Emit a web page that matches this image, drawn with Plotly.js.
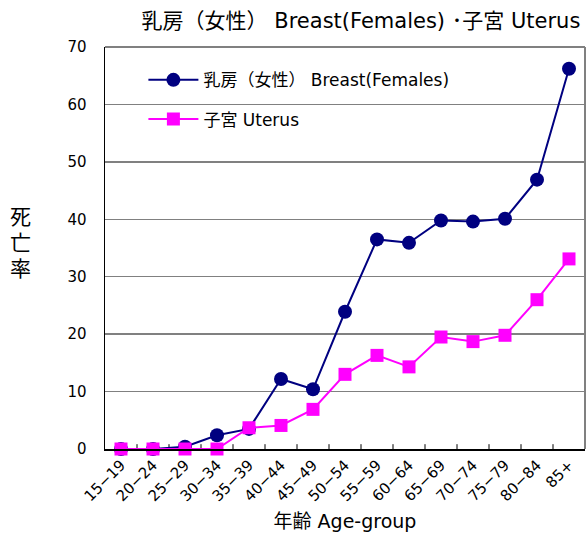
<!DOCTYPE html>
<html>
<head>
<meta charset="utf-8">
<script src="https://cdn.plot.ly/plotly-3.0.1.min.js"></script>
<style>html,body{margin:0;padding:0;background:#fff;}#chart{width:586px;height:537px;}</style>
</head>
<body>
<div id="chart"></div>
<script>
const ageGroups = ["15-19","20-24","25-29","30-34","35-39","40-44","45-49","50-54","55-59","60-64","65-69","70-74","75-79","80-84","85+"];
const tickLabels = ["15−19","20−24","25−29","30−34","35−39","40−44","45−49","50−54","55−59","60−64","65−69","70−74","75−79","80−84","85+"];
const breastValues = [0, 0, 0.4, 2.4, 3.5, 12.2, 10.4, 23.9, 36.5, 35.9, 39.8, 39.6, 40.1, 46.9, 66.2];
const uterusValues = [0, 0, 0, 0, 3.7, 4.1, 6.9, 13.0, 16.3, 14.3, 19.5, 18.7, 19.8, 26.0, 33.1];
const breastName = "乳房（女性） Breast(Females)";
const uterusName = "子宮 Uterus";
const chartTitle = "乳房（女性） Breast(Females) ･子宮 Uterus";
const yTitleChars = ["死", "亡", "率"];

const FONT = "'DejaVu Sans', 'Noto Sans CJK JP', sans-serif";

const traces = [
  {x: ageGroups, y: breastValues, name: breastName, type: "scatter", mode: "lines+markers", legendgroup: "a",
   cliponaxis: false,
   line: {color: "#000080", width: 2}, marker: {symbol: "circle", size: 14, color: "#000080"}},
  {x: ageGroups, y: uterusValues, name: uterusName, type: "scatter", mode: "lines+markers", legendgroup: "b",
   cliponaxis: false,
   line: {color: "#ff00ff", width: 2}, marker: {symbol: "square", size: 13, color: "#ff00ff"}}
];

const layout = {
  width: 586, height: 537,
  margin: {l: 105, r: 1, t: 47, b: 88},
  paper_bgcolor: "#fff", plot_bgcolor: "#fff",
  font: {family: FONT, size: 15, color: "#000"},
  title: {text: chartTitle, font: {family: FONT, size: 21, color: "#000"}, x: 0.616, xanchor: "center", y: 0.962, yanchor: "middle"},
  showlegend: true,
  legend: {x: 0.08, y: 0.962, xanchor: "left", yanchor: "top", bgcolor: "rgba(0,0,0,0)", borderwidth: 0,
           font: {family: FONT, size: 17}, traceorder: "grouped", tracegroupgap: 14, itemwidth: 50},
  xaxis: {type: "category", tickmode: "array", tickvals: ageGroups, ticktext: tickLabels,
          tickangle: -45, tickfont: {family: FONT, size: 15},
          showgrid: false, showline: true, linecolor: "#000", linewidth: 1.5, mirror: false,
          ticks: "", range: [-0.5, 14.5], zeroline: false,
          title: {text: "年齢 Age-group", font: {family: FONT, size: 19}, standoff: 10}},
  yaxis: {range: [0, 70], dtick: 10, tickfont: {family: FONT, size: 15},
          showgrid: true, gridcolor: "#808080", gridwidth: 1.5,
          showline: true, linecolor: "#000", linewidth: 1.5, mirror: false,
          ticks: "", zeroline: false, ticklabelstandoff: 14},
  shapes: [
    {type: "line", xref: "paper", yref: "paper", x0: 0, x1: 1, y0: 1, y1: 1, line: {color: "#808080", width: 2}},
    {type: "line", xref: "paper", yref: "paper", x0: 1, x1: 1, y0: 0, y1: 1, line: {color: "#808080", width: 2}}
  ].concat(ageGroups.slice(1).map((g, i) => ({
    type: "line", xref: "x", yref: "paper", x0: i + 0.5, x1: i + 0.5, y0: 0, y1: 0.012, layer: "below",
    line: {color: "#000", width: 1}
  }))),
  annotations: yTitleChars.map((c, i) => ({
    text: c, xref: "paper", yref: "paper", x: -0.177, y: [0.577, 0.512, 0.448][i],
    xanchor: "center", yanchor: "middle", showarrow: false, font: {family: FONT, size: 21}
  }))
};

Plotly.newPlot("chart", traces, layout, {displayModeBar: false, staticPlot: true});
</script>
</body>
</html>
